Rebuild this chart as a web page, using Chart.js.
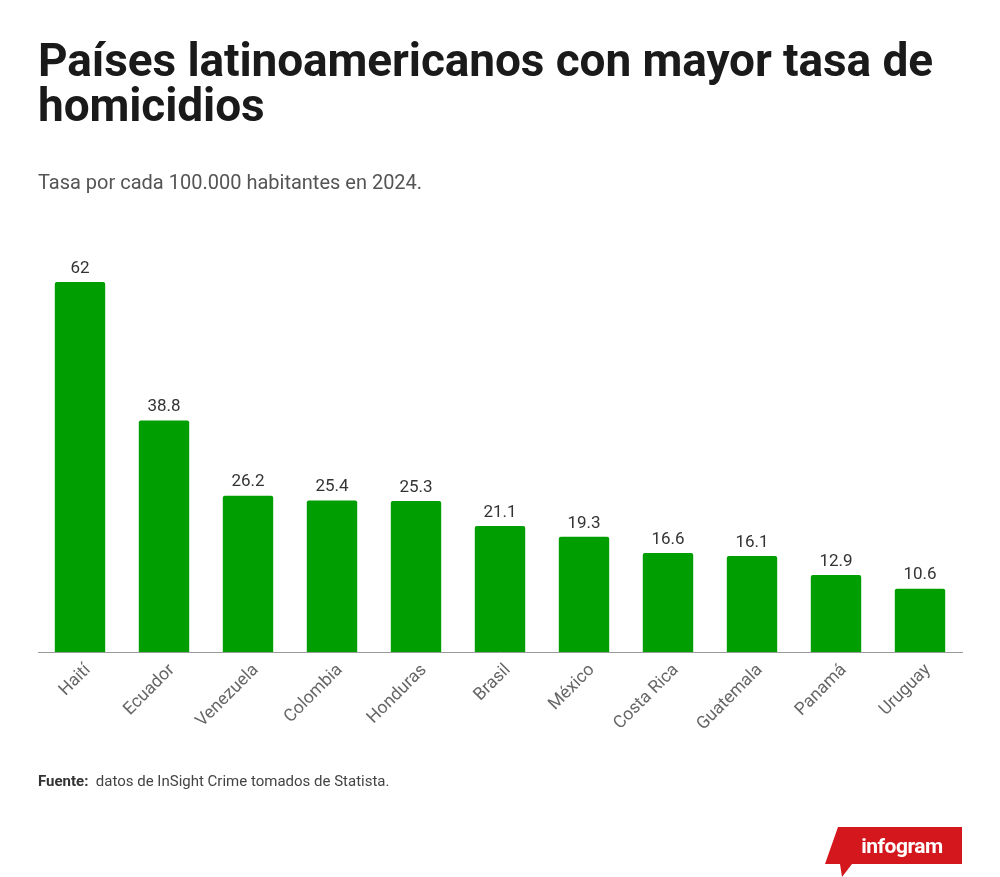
<!DOCTYPE html>
<html>
<head>
<meta charset="utf-8">
<script src="https://cdn.jsdelivr.net/npm/chart.js@4"></script>
<style>
  html, body { margin:0; padding:0; background:#fff; }
  body { width:1000px; height:877px; position:relative; overflow:hidden; font-family: Roboto, "Noto Sans", sans-serif; }
  #title { position:absolute; left:38px; top:38px; width:950px; font-family: Roboto, sans-serif; font-weight:700; font-size:46px; line-height:45px; color:#1a1a1a; letter-spacing:-0.1px; }
  #subtitle { position:absolute; left:38px; top:170px; font-size:20px; color:#555; }
  #source { position:absolute; left:38px; top:772px; font-size:15px; color:#444; }
  #source b { color:#333; }
  #wrap { position:absolute; left:0; top:0; width:1000px; height:877px; }
  #logo { position:absolute; left:824px; top:826px; }
</style>
</head>
<body>
<div id="wrap"><canvas id="c"></canvas></div>
<div id="title">Países latinoamericanos con mayor tasa de homicidios</div>
<div id="subtitle">Tasa por cada 100.000 habitantes en 2024.</div>
<div id="source"><b>Fuente:</b>&nbsp; datos de InSight Crime tomados de Statista.</div>
<svg id="logo" width="140" height="52" viewBox="0 0 140 52">
  <polygon points="14,1 138,1 138,38 28,38 18,51 16,38 1,38" fill="#d3171c"/>
  <text x="78" y="27" text-anchor="middle" font-family="Roboto, sans-serif" font-weight="700" font-size="21" fill="#fff" letter-spacing="-0.5">infogram</text>
</svg>
<script>
const categories = ["Haití","Ecuador","Venezuela","Colombia","Honduras","Brasil","México","Costa Rica","Guatemala","Panamá","Uruguay"];
const values = [62, 38.8, 26.2, 25.4, 25.3, 21.1, 19.3, 16.6, 16.1, 12.9, 10.6];
const valueLabels = ["62","38.8","26.2","25.4","25.3","21.1","19.3","16.6","16.1","12.9","10.6"];

const labelPlugin = {
  id: 'valueLabels',
  afterDatasetsDraw(chart) {
    const ctx = chart.ctx;
    const meta = chart.getDatasetMeta(0);
    ctx.save();
    ctx.font = '17px Roboto, sans-serif';
    ctx.fillStyle = '#333';
    ctx.textAlign = 'center';
    ctx.textBaseline = 'bottom';
    meta.data.forEach((bar, i) => {
      ctx.fillText(valueLabels[i], bar.x, bar.y - 5);
    });
    ctx.restore();
  }
};

new Chart(document.getElementById('c'), {
  type: 'bar',
  data: {
    labels: categories,
    datasets: [{
      data: values,
      backgroundColor: '#019e02',
      borderRadius: { topLeft: 2, topRight: 2 },
      borderSkipped: 'bottom',
      barPercentage: 0.6,
      categoryPercentage: 1.0
    }]
  },
  options: {
    responsive: true,
    maintainAspectRatio: false,
    animation: false,
    devicePixelRatio: 1,
    layout: { padding: { left: 38, right: 38, top: 282, bottom: 125 } },
    plugins: { legend: { display: false }, tooltip: { enabled: false }, title: { display: false } },
    scales: {
      x: {
        grid: { display: false, drawTicks: false },
        border: { display: true, color: '#9a9a9a', width: 1 },
        ticks: {
          minRotation: 45, maxRotation: 45, padding: 8, labelOffset: 8,
          color: '#666', font: { family: 'Roboto, sans-serif', size: 17.5 }
        },
        afterFit(scale) { scale.height = 100; }
      },
      y: {
        display: false,
        min: 0, max: 62
      }
    }
  },
  plugins: [labelPlugin]
});
</script>
</body>
</html>
